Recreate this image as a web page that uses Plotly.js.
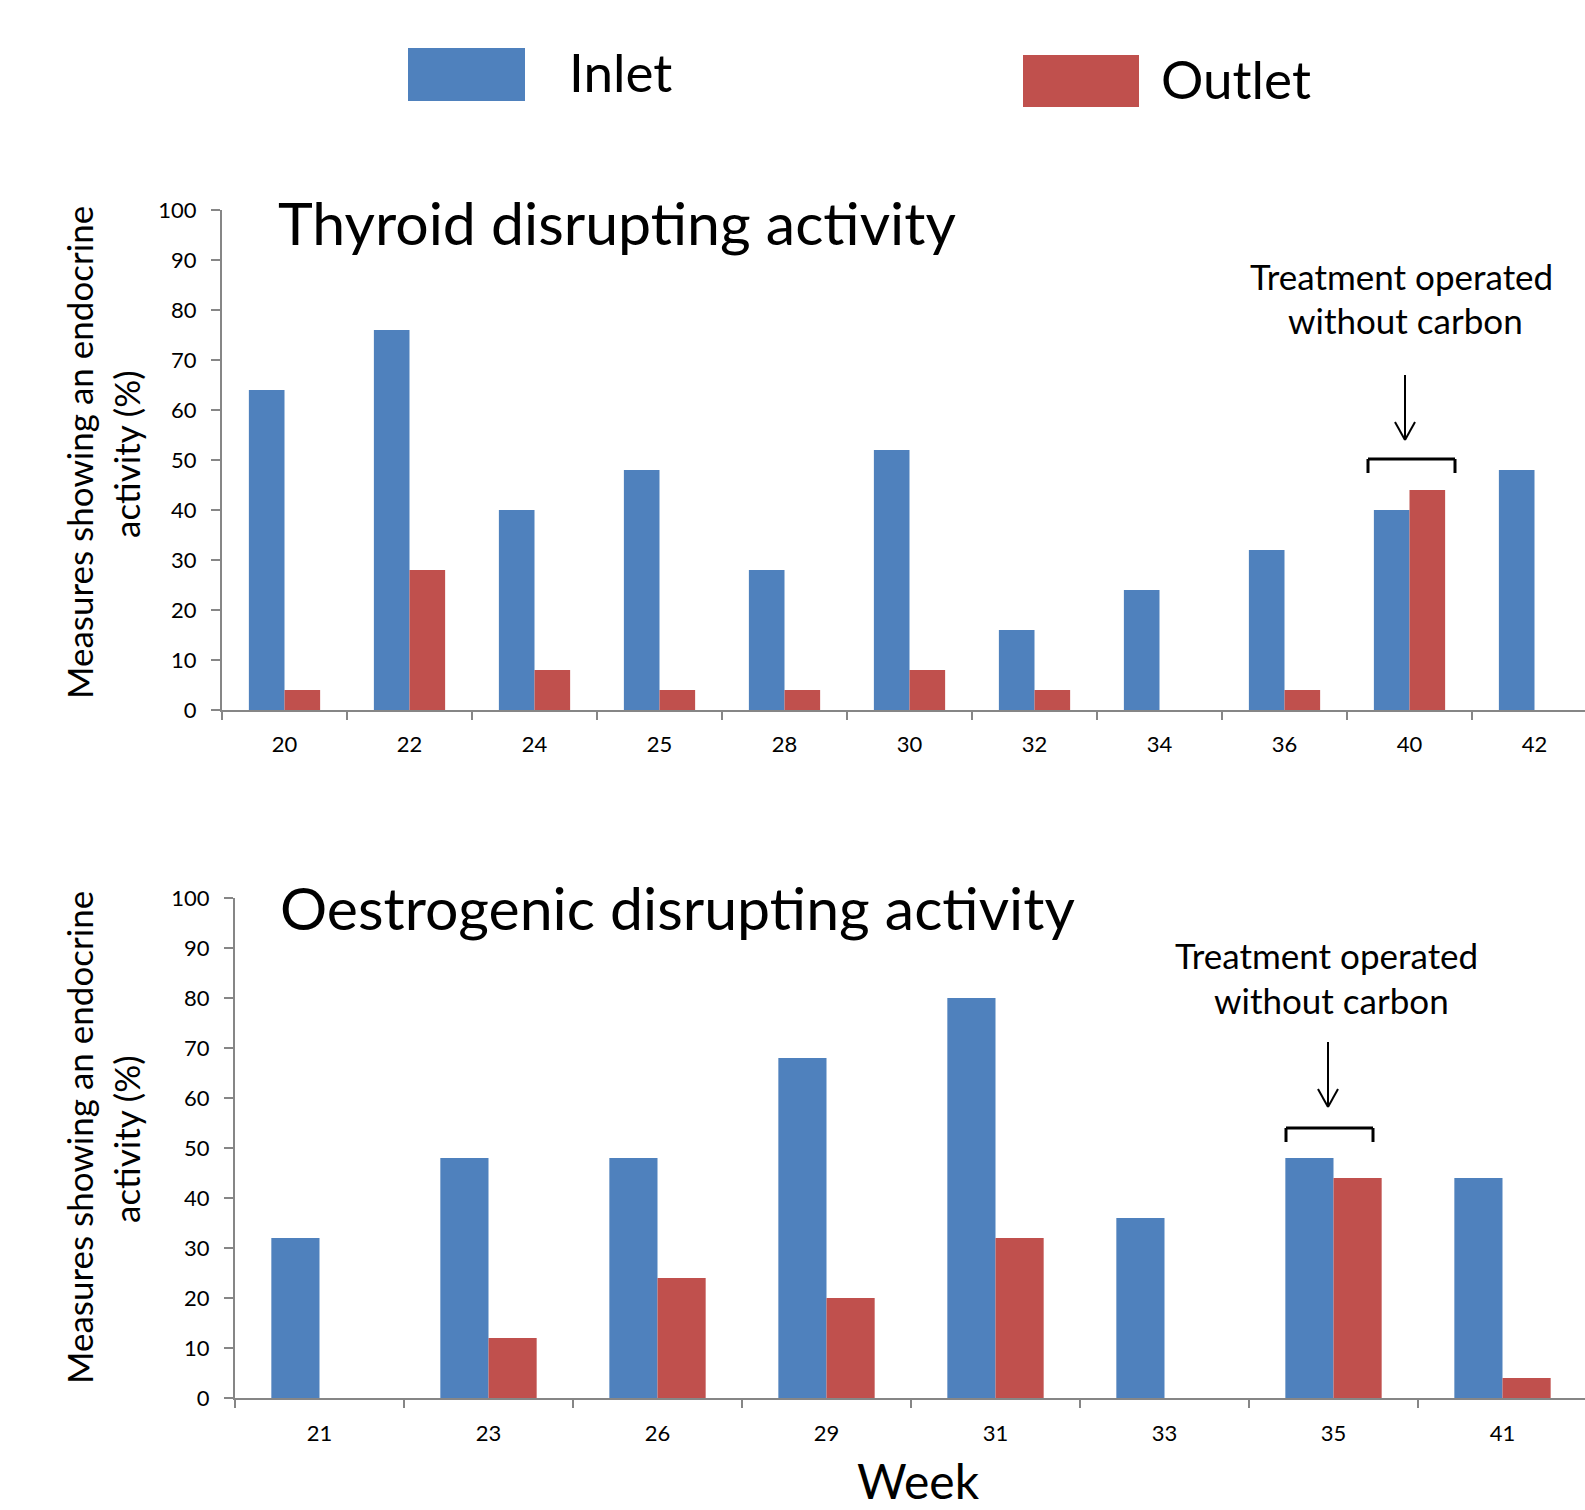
<!DOCTYPE html>
<html><head><meta charset="utf-8">
<script src="https://cdn.plot.ly/plotly-3.0.1.min.js"></script>
<style>html,body{margin:0;padding:0;background:#fff}</style>
</head><body>
<div id="chart" style="width:1585px;height:1510px"></div>
<script>
// ---- data ----
const seriesNames = ['Inlet', 'Outlet'];
const seriesColors = ['#4F81BD', '#C0504D'];
const thyroidWeeks = ['20','22','24','25','28','30','32','34','36','40','42'];
const thyroidInlet = [64, 76, 40, 48, 28, 52, 16, 24, 32, 40, 48];
const thyroidOutlet = [4, 28, 8, 4, 4, 8, 4, 0, 4, 44, 0];
const oestroWeeks = ['21','23','26','29','31','33','35','41'];
const oestroInlet = [32, 48, 48, 68, 80, 36, 48, 44];
const oestroOutlet = [0, 12, 24, 20, 32, 0, 44, 4];
const yTickVals = [0, 10, 20, 30, 40, 50, 60, 70, 80, 90, 100];
const titles = ['Thyroid disrupting activity', 'Oestrogenic disrupting activity'];
const yTitleLines = ['Measures showing an endocrine', 'activity (%)'];
const noteLines = ['Treatment operated', 'without carbon'];
const xTitle = 'Week';

// ---- layout helpers ----
const W = 1585, H = 1510;
const px = x => x / W;
const py = y => 1 - y / H;
const FONT = 'Lato, "Open Sans", sans-serif';
const AX = '#868686';

function bar(x, y, i, xa, ya) {
  return {
    type: 'bar', x: x, y: y, name: seriesNames[i], xaxis: xa, yaxis: ya,
    marker: {color: seriesColors[i], line: {width: 0}},
    hoverinfo: 'x+y', showlegend: false
  };
}

const data = [
  bar(thyroidWeeks, thyroidInlet, 0, 'x', 'y'),
  bar(thyroidWeeks, thyroidOutlet, 1, 'x', 'y'),
  bar(oestroWeeks, oestroInlet, 0, 'x2', 'y2'),
  bar(oestroWeeks, oestroOutlet, 1, 'x2', 'y2')
];

function xax(domainStart, catWidth, anchor, standoff) {
  return {
    type: 'category', domain: [px(domainStart), 1], anchor: anchor,
    range: [-0.5, -0.5 + (W - domainStart) / catWidth],
    tickson: 'boundaries', ticks: 'outside', ticklen: 8, tickwidth: 2, tickcolor: AX,
    showline: true, linecolor: AX, linewidth: 2, showgrid: false, zeroline: false,
    tickfont: {family: FONT, size: 22, color: '#000'}, ticklabelstandoff: standoff,
    fixedrange: true
  };
}
function yax(top, bottom, anchor) {
  return {
    domain: [py(bottom), py(top)], anchor: anchor, range: [0, 100],
    tickmode: 'array', tickvals: yTickVals,
    ticks: 'outside', ticklen: 9, tickwidth: 2, tickcolor: AX,
    showline: true, linecolor: AX, linewidth: 2, showgrid: false, zeroline: false,
    tickfont: {family: FONT, size: 22, color: '#000'}, ticklabelstandoff: 10,
    fixedrange: true
  };
}

const ann = [];
const shapes = [];
function text(t, x, y, size, extra) {
  ann.push(Object.assign({text: t, x: px(x), y: py(y), xref: 'paper', yref: 'paper',
    showarrow: false, xanchor: 'center', yanchor: 'middle',
    font: {family: FONT, size: size, color: '#000'}}, extra || {}));
}
function seg(x0, y0, x1, y1, w, c) {
  shapes.push({type: 'line', xref: 'paper', yref: 'paper',
    x0: px(x0), y0: py(y0), x1: px(x1), y1: py(y1),
    line: {color: c || '#000', width: w || 2.5}});
}
function rect(x0, y0, x1, y1, c) {
  shapes.push({type: 'rect', xref: 'paper', yref: 'paper',
    x0: px(x0), y0: py(y0), x1: px(x1), y1: py(y1),
    fillcolor: c, line: {width: 0}});
}

// legend (manual, large swatches)
rect(408, 48, 525, 101, seriesColors[0]);
text(seriesNames[0], 567, 71, 53, {xanchor: 'left'});
rect(1023, 55, 1139, 107, seriesColors[1]);
text(seriesNames[1], 1159, 78, 53, {xanchor: 'left'});

// panel titles
text(titles[0], 276, 222, 59, {xanchor: 'left'});
text(titles[1], 278, 907, 59, {xanchor: 'left'});

// y titles
text(yTitleLines[0], 79, 453, 35, {textangle: -90});
text(yTitleLines[1], 126, 454, 35, {textangle: -90});
text(yTitleLines[0], 79, 1138, 35, {textangle: -90});
text(yTitleLines[1], 126, 1139, 35, {textangle: -90});

// x title (anchored to the bottom edge so it stays inside the picture)
text(xTitle, 918, 1510, 48, {yanchor: 'bottom', borderpad: 0});

// notes
text(noteLines[0], 1401, 276, 35);
text(noteLines[1], 1405, 320, 35);
text(noteLines[0], 1326, 955, 35);
text(noteLines[1], 1331, 1000, 35);

// arrows + brackets
function arrow(x, yTop, yTip) {
  seg(x, yTop, x, yTip, 2);
  seg(x - 10, yTip - 18, x, yTip, 2);
  seg(x + 10, yTip - 18, x, yTip, 2);
}
function bracket(x0, x1, y, yEnd) {
  seg(x0, y, x1, y, 3);
  seg(x0, y, x0, yEnd, 3);
  seg(x1, y, x1, yEnd, 3);
}
arrow(1405, 375, 440);
bracket(1368, 1455, 459, 473);
arrow(1328, 1042, 1107);
bracket(1286, 1373, 1128, 1142);

const layout = {
  width: W, height: H, autosize: false,
  margin: {l: 0, r: 0, t: 0, b: 0},
  paper_bgcolor: '#fff', plot_bgcolor: '#fff',
  barmode: 'group', bargap: 0.43, bargroupgap: 0,
  showlegend: false,
  xaxis: xax(222, 125, 'y', 14),
  yaxis: yax(210, 710, 'x'),
  xaxis2: xax(235, 169, 'y2', 15),
  yaxis2: yax(898, 1398, 'x2'),
  annotations: ann,
  shapes: shapes,
  font: {family: FONT}
};

Plotly.newPlot('chart', data, layout, {displayModeBar: false, staticPlot: true});
</script>
</body></html>
